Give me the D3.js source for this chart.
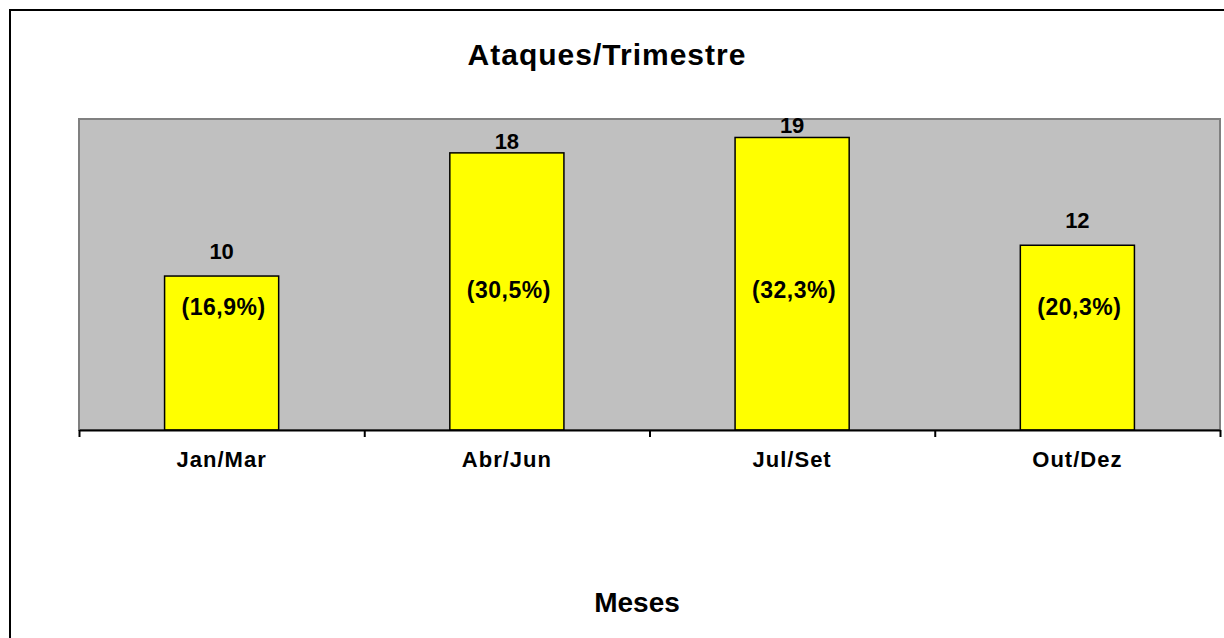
<!DOCTYPE html>
<html lang="pt">
<head>
    <meta charset="UTF-8">
    <title>Ataques/Trimestre</title>
    <script src="https://d3js.org/d3.v7.min.js"></script>
    <style>
        body { margin: 0; background: #fff; font-family: Arial, "Liberation Sans", sans-serif; }
        svg { display: block; }
    </style>
</head>
<body>
    <div id="chart"></div>
    <script>
        // data
        const categories = ["Jan/Mar", "Abr/Jun", "Jul/Set", "Out/Dez"];
        const values = [10, 18, 19, 12];
        const percentLabels = ["(16,9%)", "(30,5%)", "(32,3%)", "(20,3%)"];

        const W = 1224, H = 638;
        const plot = { left: 79, top: 119, right: 1220, bottom: 430 };

        const svg = d3.select("#chart").append("svg")
            .attr("width", W)
            .attr("height", H);

        // outer frame (runs off the right and bottom edge)
        svg.append("rect")
            .attr("x", 10).attr("y", 10)
            .attr("width", 1400).attr("height", 800)
            .attr("fill", "none")
            .attr("stroke", "#000")
            .attr("stroke-width", 2);

        const x = d3.scaleBand()
            .domain(categories)
            .range([plot.left, plot.right])
            .paddingInner(0.6)
            .paddingOuter(0.3);

        const y = d3.scaleLinear()
            .domain([0, 20.2])
            .range([plot.bottom, plot.top]);

        // plot area
        svg.append("rect")
            .attr("x", plot.left).attr("y", plot.top)
            .attr("width", plot.right - plot.left)
            .attr("height", plot.bottom - plot.top)
            .attr("fill", "#c0c0c0")
            .attr("stroke", "#808080")
            .attr("stroke-width", 2);

        // bars
        svg.selectAll(".bar")
            .data(values)
            .enter()
            .append("rect")
            .attr("class", "bar")
            .attr("x", (d, i) => x(categories[i]))
            .attr("y", d => y(d))
            .attr("width", x.bandwidth())
            .attr("height", d => y(0) - y(d))
            .attr("fill", "#ffff00")
            .attr("stroke", "#000")
            .attr("stroke-width", 1.5);

        // value labels
        svg.selectAll(".val")
            .data(values)
            .enter()
            .append("text")
            .attr("class", "val")
            .attr("x", (d, i) => x(categories[i]) + x.bandwidth() / 2)
            .attr("y", d => y(d) - (d >= 15 ? 4 : 17))
            .attr("text-anchor", "middle")
            .style("font-weight", "bold")
            .style("font-size", "22px")
            .text(d => d);

        // percent labels inside bars
        svg.selectAll(".pct")
            .data(percentLabels)
            .enter()
            .append("text")
            .attr("class", "pct")
            .attr("x", (d, i) => x(categories[i]) + x.bandwidth() / 2 + 2)
            .attr("y", (d, i) => y(values[i] >= 15 ? 9.1 : 8) + 8)
            .attr("text-anchor", "middle")
            .style("font-weight", "bold")
            .style("font-size", "23px")
            .style("letter-spacing", "0.5px")
            .text(d => d);

        // x axis: boundary ticks
        const edge = d3.scaleLinear().domain([0, categories.length]).range([plot.left, plot.right]);
        svg.append("g")
            .attr("transform", `translate(0, ${plot.bottom})`)
            .call(d3.axisBottom(edge).tickValues(d3.range(categories.length + 1)).tickSize(7).tickSizeOuter(0).tickFormat(""))
            .call(g => g.selectAll("line, path").attr("stroke", "#000").attr("stroke-width", 2));

        // category labels
        svg.append("g")
            .attr("transform", `translate(0, ${plot.bottom})`)
            .call(d3.axisBottom(x).tickSize(0).tickPadding(21))
            .call(g => g.select(".domain").remove())
            .call(g => g.selectAll("text")
                .attr("fill", "#000")
                .style("font-family", "Arial, 'Liberation Sans', sans-serif")
                .style("font-weight", "bold")
                .style("font-size", "22px")
                .style("letter-spacing", "1px"));

        // title
        svg.append("text")
            .attr("x", 607).attr("y", 65)
            .attr("text-anchor", "middle")
            .style("font-weight", "bold")
            .style("font-size", "30px")
            .style("letter-spacing", "1px")
            .text("Ataques/Trimestre");

        // x axis title
        svg.append("text")
            .attr("x", 637).attr("y", 612)
            .attr("text-anchor", "middle")
            .style("font-weight", "bold")
            .style("font-size", "28px")
            .text("Meses");
    </script>
</body>
</html>
